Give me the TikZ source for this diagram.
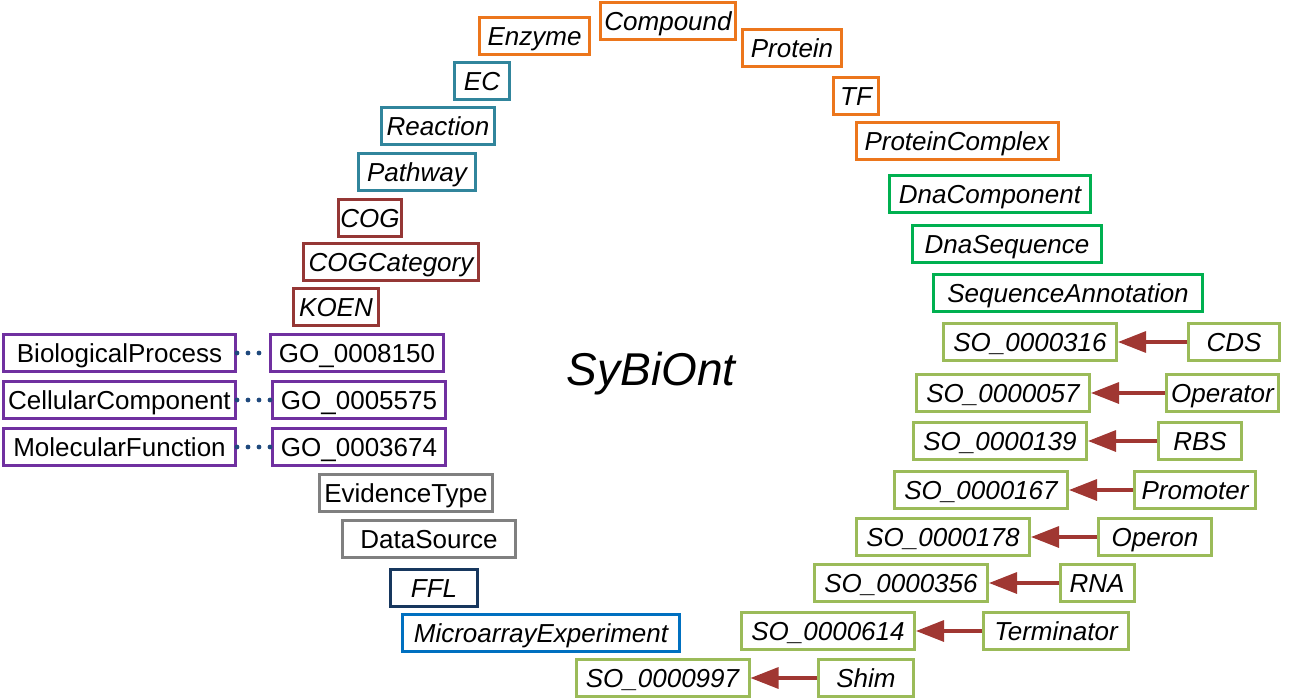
\documentclass[tikz,border=0pt]{standalone}
\usepackage{fontspec}
\setmainfont{Liberation Sans}
\usetikzlibrary{arrows.meta}
\definecolor{orangebox}{RGB}{236,118,28}
\definecolor{tealbox}{RGB}{49,133,156}
\definecolor{brownbox}{RGB}{149,55,53}
\definecolor{purplebox}{RGB}{112,48,160}
\definecolor{graybox}{RGB}{128,128,128}
\definecolor{navybox}{RGB}{23,55,94}
\definecolor{bluebox}{RGB}{0,112,192}
\definecolor{greenbox}{RGB}{0,176,80}
\definecolor{lightgreenbox}{RGB}{155,187,89}
\definecolor{arrowred}{RGB}{160,55,50}
\definecolor{dotblue}{RGB}{31,73,125}
\tikzset{
  cls/.style={draw, line width=1.5pt, fill=white, inner xsep=0pt, inner ysep=0pt,
    minimum height=18.5pt, text height=9.3pt, text depth=0pt,
    font=\fontsize{13}{15}\selectfont\itshape},
  plain/.style={cls, font=\fontsize{13}{15}\selectfont\upshape},
  so/.style={cls, draw=lightgreenbox, minimum width=86.5pt},
  isa/.style={-{Triangle[length=14pt,width=10.5pt]}, line width=1.6pt, draw=arrowred, fill=arrowred},
  same/.style={line width=2.4pt, draw=dotblue, dash pattern=on 0pt off 5.5pt, line cap=round}
}

\begin{document}
\begin{tikzpicture}[x=0.5pt,y=-0.5pt]
\useasboundingbox (0,0) rectangle (1289,700);

\node[cls, draw=orangebox, minimum width=67.5pt] (compound) at (668,21) {Compound};
\node[cls, draw=orangebox, minimum width=55pt] (enzyme) at (534.5,36) {Enzyme};
\node[cls, draw=orangebox, minimum width=49.5pt] (protein) at (792,48) {Protein};
\node[cls, draw=orangebox, minimum width=22.5pt] (tf) at (856,96) {TF};
\node[cls, draw=orangebox, minimum width=101pt] (proteincomplex) at (957,141) {ProteinComplex};

\node[cls, draw=tealbox, minimum width=27.5pt] (ec) at (482,81) {EC};
\node[cls, draw=tealbox, minimum width=56.5pt] (reaction) at (438,126) {Reaction};
\node[cls, draw=tealbox, minimum width=58.5pt] (pathway) at (417,172) {Pathway};

\node[cls, draw=brownbox, minimum width=31.5pt] (cog) at (370,218) {COG};
\node[cls, draw=brownbox, minimum width=87.5pt] (cogcategory) at (391,262) {COGCategory};
\node[cls, draw=brownbox, minimum width=42.5pt] (koen) at (336,307) {KOEN};

\node[plain, draw=purplebox, minimum width=116pt] (bioprocess) at (119.5,353) {BiologicalProcess};
\node[plain, draw=purplebox, minimum width=86.5pt] (go8150) at (357,353) {GO\_0008150};
\node[plain, draw=purplebox, minimum width=116pt] (cellcomp) at (119.5,400) {CellularComponent};
\node[plain, draw=purplebox, minimum width=86.5pt] (go5575) at (359,400) {GO\_0005575};
\node[plain, draw=purplebox, minimum width=116pt] (molfunc) at (119.5,447) {MolecularFunction};
\node[plain, draw=purplebox, minimum width=86.5pt] (go3674) at (359,447) {GO\_0003674};
\draw[same] (bioprocess) -- (go8150);
\draw[same] (cellcomp) -- (go5575);
\draw[same] (molfunc) -- (go3674);

\node[plain, draw=graybox, minimum width=86.5pt] (evidencetype) at (406,493) {EvidenceType};
\node[plain, draw=graybox, minimum width=86.5pt] (datasource) at (429,539) {DataSource};
\node[cls, draw=navybox, minimum width=43.5pt] (ffl) at (434,588) {FFL};
\node[cls, draw=bluebox, minimum width=138.5pt] (microarray) at (541,633) {MicroarrayExperiment};

\node[font=\fontsize{23}{28}\selectfont\itshape, anchor=base] (sybiont) at (651,385) {SyBiOnt};

\node[cls, draw=greenbox, minimum width=100.5pt] (dnacomponent) at (990,194) {DnaComponent};
\node[cls, draw=greenbox, minimum width=94.5pt] (dnasequence) at (1007,244) {DnaSequence};
\node[cls, draw=greenbox, minimum width=134.5pt] (seqannotation) at (1068,293) {SequenceAnnotation};

\node[so] (so316) at (1030,342) {SO\_0000316};
\node[cls, draw=lightgreenbox, minimum width=45.5pt] (cds) at (1234,342) {CDS};
\draw[isa] (cds) -- (so316);

\node[so] (so57) at (1003,393) {SO\_0000057};
\node[cls, draw=lightgreenbox, minimum width=56pt] (operator) at (1222.5,393) {Operator};
\draw[isa] (operator) -- (so57);

\node[so] (so139) at (1000,441) {SO\_0000139};
\node[cls, draw=lightgreenbox, minimum width=41.5pt] (rbs) at (1200,441) {RBS};
\draw[isa] (rbs) -- (so139);

\node[so] (so167) at (981,490) {SO\_0000167};
\node[cls, draw=lightgreenbox, minimum width=60.5pt] (promoter) at (1195,490) {Promoter};
\draw[isa] (promoter) -- (so167);

\node[so] (so178) at (943,537) {SO\_0000178};
\node[cls, draw=lightgreenbox, minimum width=56.5pt] (operon) at (1155,537) {Operon};
\draw[isa] (operon) -- (so178);

\node[so] (so356) at (901,583) {SO\_0000356};
\node[cls, draw=lightgreenbox, minimum width=37pt] (rna) at (1097,583) {RNA};
\draw[isa] (rna) -- (so356);

\node[so] (so614) at (828,631) {SO\_0000614};
\node[cls, draw=lightgreenbox, minimum width=72.5pt] (terminator) at (1056,631) {Terminator};
\draw[isa] (terminator) -- (so614);

\node[so] (so997) at (662.5,678) {SO\_0000997};
\node[cls, draw=lightgreenbox, minimum width=47.5pt] (shim) at (866,678) {Shim};
\draw[isa] (shim) -- (so997);
\end{tikzpicture}
\end{document}
